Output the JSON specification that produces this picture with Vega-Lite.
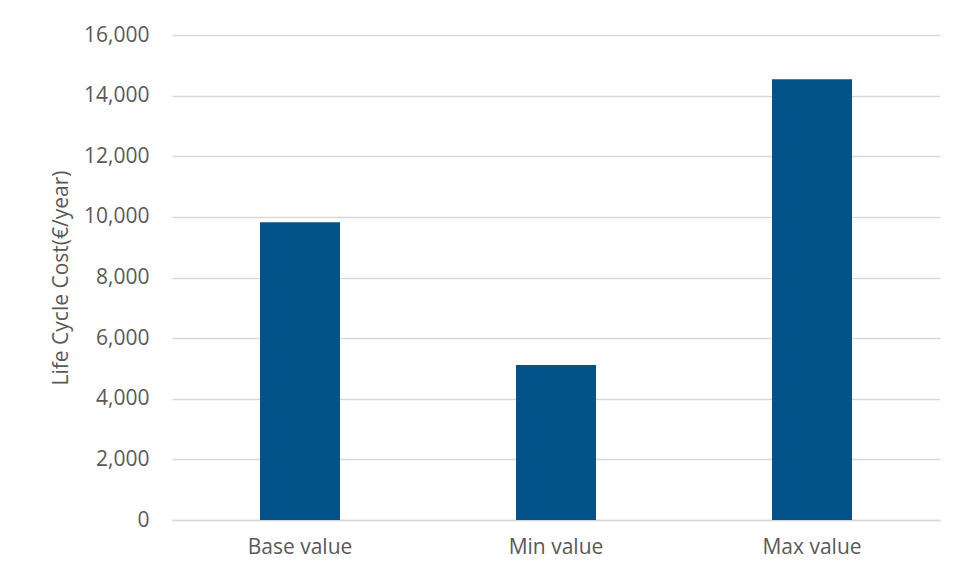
{
  "$schema": "https://vega.github.io/schema/vega-lite/v6.json",
  "width": 768,
  "height": 485,
  "autosize": {"type": "none"},
  "padding": {"left": 172, "top": 35, "right": 19, "bottom": 58},
  "background": "white",
  "config": {
    "view": {"stroke": null},
    "font": "Open Sans"
  },
  "data": {
    "values": [
      {"case": "Base value", "cost": 9825},
      {"case": "Min value", "cost": 5113},
      {"case": "Max value", "cost": 14538}
    ]
  },
  "mark": {"type": "bar", "color": "#02538A"},
  "encoding": {
    "x": {
      "field": "case",
      "type": "nominal",
      "sort": null,
      "title": null,
      "scale": {"paddingInner": 0.6875, "paddingOuter": 0.34375},
      "axis": {
        "labelAngle": 0,
        "labelFont": "Open Sans",
        "labelFontSize": 21,
        "labelColor": "#595959",
        "labelPadding": 16,
        "ticks": false,
        "domainColor": "#D9D9D9",
        "domainWidth": 1.5
      }
    },
    "y": {
      "field": "cost",
      "type": "quantitative",
      "title": "Life Cycle Cost(€/year)",
      "scale": {"domain": [0, 16000], "nice": false},
      "axis": {
        "values": [0, 2000, 4000, 6000, 8000, 10000, 12000, 14000, 16000],
        "format": ",d",
        "labelFont": "Open Sans",
        "labelFontSize": 21,
        "labelColor": "#595959",
        "labelPadding": 23,
        "ticks": false,
        "domain": false,
        "gridColor": "#D9D9D9",
        "gridWidth": 1.5,
        "titleFont": "Open Sans",
        "titleFontSize": 21,
        "titleFontWeight": "normal",
        "titleColor": "#595959",
        "titlePadding": 12
      }
    }
  }
}
